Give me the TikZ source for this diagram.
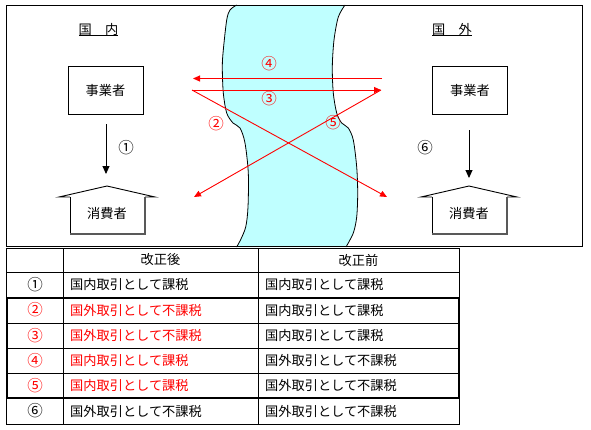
\documentclass[tikz,border=0pt]{standalone}
\usepackage{fontspec}
\setmainfont{Noto Sans CJK JP}
\usetikzlibrary{arrows.meta}
\definecolor{river}{RGB}{191,255,255}
\definecolor{myred}{RGB}{255,0,0}
\begin{document}
\begin{tikzpicture}[x=1pt,y=-1pt,
  every node/.style={font=\fontsize{13.2}{15}\selectfont, inner sep=0pt},
  circ/.style={font=\fontsize{15.5}{17}\selectfont},
  bizbox/.style={draw, line width=0.9pt, minimum width=75pt, minimum height=48pt},
  redarrow/.style={draw=myred, line width=0.9pt, -{Triangle[length=7pt,width=6pt]}},
  blkarrow/.style={draw=black, line width=0.9pt, -{Triangle[length=8pt,width=7pt]}},
  redlbl/.style={circ, text=myred},
  cell/.style={anchor=west},
  redcell/.style={anchor=west, text=myred},
  grid/.style={line width=0.9pt}
]
\useasboundingbox (0,0) rectangle (591,429);
% river
\fill[river] plot[smooth] coordinates {(236.7,5) (230,10) (226.7,20) (223.3,50) (222.3,67) (223.3,93) (226.7,113) (233,123) (240,128) (245,143) (248.3,173) (248,207) (245.7,227) (240,241) (236.5,247)}
  -- plot[smooth] coordinates {(346,247) (353.3,233) (356.7,217) (357.7,193) (356.7,167) (353.3,140) (348.3,128) (341.7,123) (336.7,113) (333.3,93) (332.3,67) (334,40) (338.3,17) (345,5)} -- cycle;
\draw[line width=0.8pt] plot[smooth] coordinates {(236.7,5) (230,10) (226.7,20) (223.3,50) (222.3,67) (223.3,93) (226.7,113) (233,123) (240,128) (245,143) (248.3,173) (248,207) (245.7,227) (240,241) (236.5,247)};
\draw[line width=0.8pt] plot[smooth] coordinates {(346,247) (353.3,233) (356.7,217) (357.7,193) (356.7,167) (353.3,140) (348.3,128) (341.7,123) (336.7,113) (333.3,93) (332.3,67) (334,40) (338.3,17) (345,5)};
% frame
\draw[line width=0.9pt] (6,5) rectangle (582,246);
% region titles
\node (dom) at (98.5,29) {国　内};
\draw[line width=0.9pt] (79,35.5) -- (118,35.5);
\node (frn) at (452,29) {国　外};
\draw[line width=0.9pt] (432,35.5) -- (472,35.5);
% businesses
\node[bizbox] (bizL) at (105.5,90) {事業者};
\node[bizbox] (bizR) at (470,90) {事業者};
% consumers (house shapes)
\draw[line width=0.9pt] (70,197) -- (59,197) -- (107,186) -- (155,197) -- (145,197);
\draw[line width=0.9pt] (70,197) -- (70,234);
\draw[line width=1.4pt, gray!70!black] (70,234) -- (145,234) -- (145,197);
\node (conL) at (107,213) {消費者};
\draw[line width=0.9pt] (432,197) -- (421,197) -- (469,186) -- (517,197) -- (507,197);
\draw[line width=0.9pt] (432,197) -- (432,234);
\draw[line width=1.4pt, gray!70!black] (432,234) -- (507,234) -- (507,197);
\node (conR) at (469,213) {消費者};
% black arrows
\coordinate (a1s) at (106,124);
\coordinate (a1e) at (106,174);
\draw[blkarrow] (a1s) -- (a1e);
\node[circ] (l1) at (126,148) {①};
\coordinate (a6s) at (469,130);
\coordinate (a6e) at (469,178);
\draw[blkarrow] (a6s) -- (a6e);
\node[circ] (l6) at (425,148) {⑥};
% red arrows
\coordinate (p4s) at (382,78.5);
\coordinate (p4e) at (193,78.5);
\coordinate (pLs) at (192,90);
\coordinate (pRs) at (381,90);
\coordinate (pLe) at (194,197);
\coordinate (pRe) at (387,197);
\draw[redarrow] (p4s) -- (p4e);
\draw[redarrow] (pLs) -- (pRs);
\draw[redarrow] (pLs) -- (pRe);
\draw[redarrow] (pRs) -- (pLe);
\node[redlbl] (l4) at (269,64) {④};
\node[redlbl] (l3) at (269,99) {③};
\node[redlbl] (l2) at (216,124) {②};
\node[redlbl] (l5) at (333,123) {⑤};
% table
\draw[grid] (6,248) rectangle (459,424);
\foreach \yy in {272,323,348,373} \draw[grid] (6,\yy) -- (459,\yy);
\foreach \xx in {63,258} \draw[grid] (\xx,248) -- (\xx,424);
\draw[line width=2.5pt] (7,298) rectangle (459,398);
\node (h2) at (160.5,260) {改正後};
\node (h3) at (358.5,260) {改正前};
\node[circ] (n1) at (35,284.5) {①};
\node[cell] (a1) at (70,284.5) {国内取引として課税};
\node[cell] (b1) at (265,284.5) {国内取引として課税};
\node[redlbl] (n2) at (35,310) {②};
\node[redcell] (a2) at (70,310) {国外取引として不課税};
\node[cell] (b2) at (265,310) {国内取引として課税};
\node[redlbl] (n3) at (35,335.5) {③};
\node[redcell] (a3) at (70,335.5) {国外取引として不課税};
\node[cell] (b3) at (265,335.5) {国内取引として課税};
\node[redlbl] (n4) at (35,360.5) {④};
\node[redcell] (a4) at (70,360.5) {国内取引として課税};
\node[cell] (b4) at (265,360.5) {国外取引として不課税};
\node[redlbl] (n5) at (35,385.5) {⑤};
\node[redcell] (a5) at (70,385.5) {国内取引として課税};
\node[cell] (b5) at (265,385.5) {国外取引として不課税};
\node[circ] (n6) at (35,411) {⑥};
\node[cell] (a6) at (70,411) {国外取引として不課税};
\node[cell] (b6) at (265,411) {国外取引として不課税};
\end{tikzpicture}
\end{document}
